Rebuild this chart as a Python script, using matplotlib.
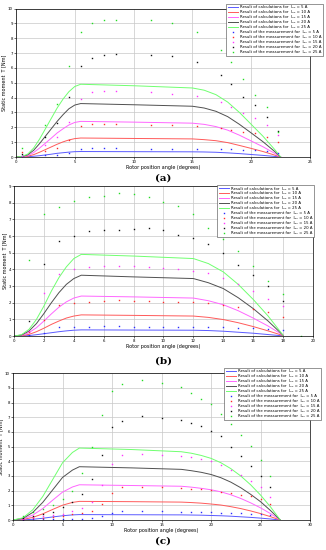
import matplotlib.pyplot as plt

plt.rcParams['font.family'] = ['DejaVu Sans', 'Noto Sans']

# ---- data ----
currents = [5, 10, 15, 20, 25]

# panel (a)
a_calc_x = [0, 0.5, 1, 1.5, 2, 2.5, 3, 3.5, 4, 4.5, 5, 5.5, 10, 15, 16, 17, 18, 19, 20, 21, 22, 22.5]
a_calc = [
    [0, 0.0, 0.02, 0.05, 0.09, 0.14, 0.19, 0.25, 0.29, 0.33, 0.36, 0.37, 0.36, 0.35, 0.34, 0.32, 0.28, 0.23, 0.17, 0.11, 0.04, 0],
    [0, 0.01, 0.05, 0.16, 0.32, 0.5, 0.68, 0.86, 1.02, 1.15, 1.24, 1.28, 1.25, 1.22, 1.17, 1.1, 0.97, 0.78, 0.58, 0.37, 0.13, 0],
    [0, 0.01, 0.1, 0.3, 0.6, 0.93, 1.27, 1.62, 1.9, 2.16, 2.33, 2.4, 2.35, 2.28, 2.2, 2.05, 1.81, 1.47, 1.08, 0.69, 0.25, 0],
    [0, 0.02, 0.15, 0.45, 0.9, 1.4, 1.9, 2.4, 2.85, 3.25, 3.5, 3.6, 3.52, 3.42, 3.3, 3.08, 2.72, 2.2, 1.62, 1.03, 0.37, 0],
    [0, 0.03, 0.2, 0.6, 1.2, 1.9, 2.6, 3.3, 3.9, 4.4, 4.75, 4.9, 4.8, 4.65, 4.5, 4.2, 3.7, 3.0, 2.2, 1.4, 0.5, 0.0],
]
a_meas_x = [0.5, 2.5, 3.5, 4.5, 5.5, 6.5, 7.5, 8.5, 11.5, 13.3, 15.4, 17.4, 18.3, 19.3, 20.3, 21.3, 22.3]
a_meas = [
    [0.07, 0.11, 0.16, 0.27, 0.53, 0.58, 0.58, 0.58, 0.56, 0.56, 0.56, 0.51, 0.51, 0.49, 0.44, 0.38, 0.29],
    [0.33, 0.4, 0.62, 1.18, 2.07, 2.22, 2.2, 2.22, 2.18, 2.13, 2.07, 1.93, 1.84, 1.71, 1.6, 1.38, 0.98],
    [0.1, 0.78, 1.38, 2.33, 3.89, 4.35, 4.42, 4.44, 4.35, 4.27, 4.1, 3.71, 3.38, 2.98, 2.6, 2.15, 1.45],
    [0.2, 1.33, 2.3, 4.07, 6.1, 6.67, 6.9, 6.93, 6.84, 6.78, 6.4, 5.5, 4.9, 4.05, 3.47, 2.67, 1.73],
    [0.62, 2.18, 3.55, 6.1, 8.4, 9.05, 9.2, 9.25, 9.2, 9.05, 8.4, 7.2, 6.4, 5.25, 4.2, 3.35, 1.7],
]

# panel (b)
b_calc_x = [0, 0.5, 1, 1.5, 2, 2.5, 3, 3.5, 4, 4.5, 8, 12, 13, 14, 15, 16, 17, 18]
b_calc = [
    [0, 0.01, 0.03, 0.08, 0.14, 0.2, 0.26, 0.31, 0.35, 0.37, 0.36, 0.35, 0.33, 0.29, 0.23, 0.17, 0.09, 0.01],
    [0, 0.02, 0.1, 0.26, 0.47, 0.7, 0.9, 1.08, 1.2, 1.27, 1.24, 1.2, 1.12, 0.99, 0.8, 0.57, 0.31, 0.03],
    [0, 0.04, 0.2, 0.5, 0.9, 1.33, 1.73, 2.05, 2.28, 2.4, 2.35, 2.28, 2.12, 1.88, 1.52, 1.08, 0.6, 0.05],
    [0, 0.06, 0.3, 0.75, 1.35, 2.0, 2.6, 3.1, 3.45, 3.65, 3.55, 3.45, 3.2, 2.85, 2.3, 1.65, 0.9, 0.05],
    [0, 0.08, 0.4, 1.0, 1.8, 2.7, 3.5, 4.15, 4.65, 4.9, 4.8, 4.65, 4.35, 3.85, 3.1, 2.2, 1.2, 0.05],
]
b_meas_x = [1, 2, 3, 4, 5, 6, 7, 8, 9, 10, 11, 12, 13, 14, 15, 16, 17, 18]
b_meas = [
    [0.08, 0.19, 0.54, 0.56, 0.57, 0.58, 0.58, 0.57, 0.57, 0.57, 0.57, 0.56, 0.55, 0.54, 0.5, 0.47, 0.43, 0.36],
    [0.25, 0.97, 1.87, 1.98, 2.06, 2.08, 2.14, 2.1, 2.08, 2.06, 2.02, 2.02, 1.96, 1.89, 1.75, 1.61, 1.44, 1.17],
    [0.29, 2.57, 3.75, 4.03, 4.12, 4.18, 4.22, 4.18, 4.14, 4.09, 4.03, 3.89, 3.77, 3.46, 3.11, 2.68, 2.22, 1.79],
    [0.93, 4.32, 5.7, 6.03, 6.3, 6.38, 6.36, 6.42, 6.48, 6.34, 6.07, 5.88, 5.5, 4.96, 4.24, 3.68, 2.98, 2.1],
    [4.57, 7.3, 7.72, 8.13, 8.37, 8.42, 8.6, 8.54, 8.33, 8.02, 7.78, 7.3, 6.48, 5.82, 5.08, 4.2, 3.29, 2.53],
]
b_extra_x = [19.2]
b_extra_y = [0.0]

# panel (c)
c_calc_x = [0, 1, 2, 3, 4, 5, 6, 6.7, 12, 17, 18, 19, 20, 21, 22, 23, 24, 25, 26, 27]
c_calc = [
    [0, 0.01, 0.05, 0.12, 0.21, 0.29, 0.35, 0.37, 0.36, 0.35, 0.34, 0.33, 0.31, 0.29, 0.26, 0.22, 0.18, 0.13, 0.07, 0],
    [0, 0.04, 0.18, 0.42, 0.72, 1.01, 1.2, 1.27, 1.25, 1.22, 1.19, 1.15, 1.09, 1.02, 0.91, 0.78, 0.62, 0.44, 0.23, 0],
    [0, 0.07, 0.34, 0.78, 1.35, 1.9, 2.25, 2.4, 2.35, 2.3, 2.24, 2.16, 2.06, 1.92, 1.72, 1.47, 1.17, 0.83, 0.44, 0],
    [0, 0.11, 0.52, 1.2, 2.05, 2.9, 3.4, 3.63, 3.55, 3.45, 3.36, 3.25, 3.1, 2.88, 2.58, 2.2, 1.75, 1.25, 0.65, 0],
    [0, 0.15, 0.7, 1.6, 2.75, 3.9, 4.6, 4.9, 4.8, 4.65, 4.55, 4.4, 4.2, 3.9, 3.5, 3.0, 2.4, 1.7, 0.9, 0],
]
c_meas_x = [1, 2, 3, 4, 5, 6, 7, 8, 9, 10, 11, 13, 15, 17, 18, 19, 20, 21, 22, 23, 24, 25, 26]
c_meas = [
    [0.03, 0.04, 0.05, 0.06, 0.07, 0.09, 0.1, 0.15, 0.26, 0.5, 0.6, 0.6, 0.6, 0.56, 0.55, 0.53, 0.53, 0.51, 0.49, 0.47, 0.42, 0.38, 0.33],
    [0.07, 0.11, 0.15, 0.22, 0.26, 0.4, 0.46, 0.64, 1.06, 1.85, 2.27, 2.25, 2.23, 2.16, 2.12, 2.08, 2.05, 1.94, 1.85, 1.72, 1.61, 1.41, 1.06],
    [0.09, 0.18, 0.26, 0.33, 0.44, 0.62, 0.79, 1.24, 2.36, 3.84, 4.42, 4.5, 4.42, 4.33, 4.26, 4.15, 4.0, 3.75, 3.42, 3.05, 2.69, 2.23, 1.57],
    [0.17, 0.29, 0.44, 0.57, 0.86, 1.24, 1.79, 2.76, 4.44, 6.31, 6.75, 7.11, 6.98, 6.8, 6.58, 6.38, 6.05, 5.7, 4.99, 4.37, 3.71, 3.0, 2.25],
    [0.3, 0.57, 0.77, 1.02, 1.43, 1.99, 3.18, 4.97, 7.13, 8.79, 9.27, 9.51, 9.34, 9.05, 8.63, 8.23, 7.9, 7.24, 6.56, 5.81, 5.03, 4.06, 3.0],
]

line_colors = ['#5a5aff', '#ff5a5a', '#ff66ff', '#505050', '#70ff70']
dot_colors = ['#2a2aff', '#ff2a2a', '#ff33ff', '#111111', '#22dd22']

panels = [
    dict(rect=[0.049, 0.7145, 0.902, 0.27], xlim=25, xticks=range(0, 26, 5), ylim=10,
         cx=a_calc_x, cy=a_calc, mx=a_meas_x, my=a_meas, tag='(a)', tag_y=0.677,
         leg=(325 / 326, 1 - 2 / 550)),
    dict(rect=[0.043, 0.389, 0.917, 0.2727], xlim=20, xticks=range(0, 21, 2), ylim=9,
         cx=b_calc_x, cy=b_calc, mx=b_meas_x, my=b_meas, tag='(b)', tag_y=0.344,
         leg=(316 / 326, 1 - 183 / 550)),
    dict(rect=[0.040, 0.0545, 0.911, 0.267], xlim=30, xticks=range(0, 31, 5), ylim=10,
         cx=c_calc_x, cy=c_calc, mx=c_meas_x, my=c_meas, tag='(c)', tag_y=0.016,
         leg=(323 / 326, 1 - 366 / 550)),
]

fig = plt.figure(figsize=(3.26, 5.5), dpi=100)

for i, p in enumerate(panels):
    ax = fig.add_axes(p['rect'])
    for k, cur in enumerate(currents):
        ax.plot(p['cx'], p['cy'][k], color=line_colors[k], lw=0.7,
                label='Result of calculations for  I\u209a\u2095 = %d A' % cur)
    for k, cur in enumerate(currents):
        ax.plot(p['mx'], p['my'][k], ls='none', marker='s', ms=1.0, mew=0,
                color=dot_colors[k],
                label='Result of the measurement for  I\u209a\u2095 = %d A' % cur)
    if i == 1:
        ax.plot(b_extra_x, b_extra_y, ls='none', marker='s', ms=1.0, mew=0, color=dot_colors[4])
    ax.set_xlim(0, p['xlim'])
    ax.set_ylim(0, p['ylim'])
    ax.set_xticks(list(p['xticks']))
    ax.set_yticks(range(0, p['ylim'] + 1))
    ax.grid(True, color='#c8c8c8', lw=0.5)
    ax.tick_params(labelsize=2.8, length=1.2, width=0.4, pad=1)
    for s in ax.spines.values():
        s.set_linewidth(0.5)
    ax.set_xlabel('Rotor position angle (degrees)', fontsize=3.5, labelpad=0.5)
    ax.set_ylabel('Static moment  T [Nm]', fontsize=3.5, labelpad=1)
    leg = fig.legend(*ax.get_legend_handles_labels(), loc='upper right',
                     bbox_to_anchor=p['leg'], fontsize=2.8, handlelength=2.6,
                     handleheight=0.5, handletextpad=0.6, labelspacing=0.25,
                     borderpad=0.4, fancybox=False, framealpha=1,
                     edgecolor='#444444')
    leg.get_frame().set_linewidth(0.4)
    fig.text(0.5, p['tag_y'], p['tag'], ha='center', va='center', fontsize=7.5,
             fontweight='bold', family='DejaVu Serif')

fig.savefig('out.png', dpi=100)
